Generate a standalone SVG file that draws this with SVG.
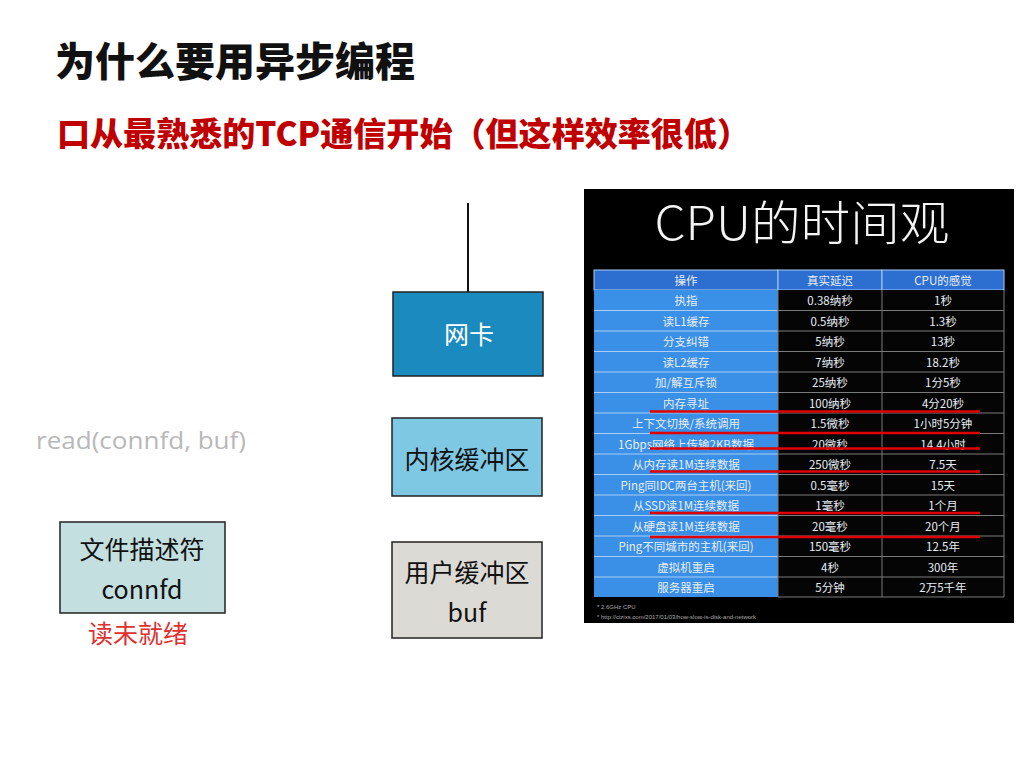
<svg xmlns="http://www.w3.org/2000/svg" width="1024" height="768" viewBox="0 0 1024 768">
<style>
.cjk{font-family:"Noto Sans CJK SC","Liberation Sans",sans-serif}
.box{stroke:#222;stroke-width:1.5}
.lbl{font-family:"Noto Sans CJK SC","Liberation Sans",sans-serif;font-size:25px;text-anchor:middle}
.tc{font-family:"Noto Sans CJK SC","Liberation Sans",sans-serif;font-size:11.5px;fill:#e8eef5;text-anchor:middle}
.hd{fill:#2d6fd0;stroke:#a9cdf2;stroke-width:1}
.red{stroke:#e00000;stroke-width:2.5}
</style>
<rect width="1024" height="768" fill="#ffffff"/>
<text x="55" y="76" class="cjk" font-size="40" font-weight="900" fill="#111" textLength="360" lengthAdjust="spacingAndGlyphs">为什么要用异步编程</text>
<text x="57" y="146" class="cjk" font-size="33" font-weight="900" fill="#c00000" textLength="693" lengthAdjust="spacingAndGlyphs">口从最熟悉的TCP通信开始（但这样效率很低）</text>
<text x="36" y="449" font-family="Open Sans,Liberation Sans,sans-serif" font-size="24" fill="#b8b8b8" textLength="210" lengthAdjust="spacingAndGlyphs">read(connfd, buf)</text>
<g id="connectors">
<line x1="468" y1="203" x2="468" y2="292" stroke="#111" stroke-width="2"/>
</g>
<g id="nic">
<rect x="393" y="292" width="150" height="84" fill="#1b8bbf" class="box"/>
<text x="469" y="344" class="lbl" fill="#fff">网卡</text>
</g>
<g id="kernel-buffer">
<rect x="392" y="418" width="150" height="78" fill="#7ec8e3" class="box"/>
<text x="467" y="469" class="lbl" fill="#111">内核缓冲区</text>
</g>
<g id="user-buffer">
<rect x="392" y="542" width="150" height="96" fill="#dcdad5" class="box"/>
<text x="467" y="582" class="lbl" fill="#111">用户缓冲区</text>
<text x="467" y="622" class="lbl" fill="#111">buf</text>
</g>
<g id="fd">
<rect x="60" y="522" width="165" height="91" fill="#c4dfe0" class="box"/>
<text x="142" y="559" class="lbl" fill="#111">文件描述符</text>
<text x="142" y="599" class="lbl" fill="#111">connfd</text>
</g>
<text x="138" y="643" class="lbl" fill="#e03030">读未就绪</text>
<g id="cpu-time-table">
<rect x="584" y="189" width="430" height="434" fill="#000"/>
<text x="802" y="240" font-family="Noto Sans CJK SC,Liberation Sans,sans-serif" font-size="47" font-weight="300" fill="#f4f4f4" text-anchor="middle" textLength="295" lengthAdjust="spacingAndGlyphs">CPU的时间观</text>
<rect x="594" y="270" width="184" height="20" class="hd"/>
<rect x="778" y="270" width="104" height="20" class="hd"/>
<rect x="882" y="270" width="122" height="20" class="hd"/>
<text x="686" y="284.5" class="tc">操作</text>
<text x="830" y="284.5" class="tc">真实延迟</text>
<text x="943" y="284.5" class="tc">CPU的感觉</text>
<g id="rows">
<rect x="594" y="290" width="184" height="307" fill="#3a8fe6"/>
<rect x="778" y="290" width="226" height="307" fill="#050505"/>
<g stroke="#a9cdf2" stroke-width="1">
<line x1="594" y1="310.5" x2="778" y2="310.5"/><line x1="594" y1="331" x2="778" y2="331"/><line x1="594" y1="351.5" x2="778" y2="351.5"/><line x1="594" y1="372" x2="778" y2="372"/><line x1="594" y1="392.5" x2="778" y2="392.5"/><line x1="594" y1="413" x2="778" y2="413"/><line x1="594" y1="433.5" x2="778" y2="433.5"/><line x1="594" y1="454" x2="778" y2="454"/><line x1="594" y1="474.5" x2="778" y2="474.5"/><line x1="594" y1="495" x2="778" y2="495"/><line x1="594" y1="515.5" x2="778" y2="515.5"/><line x1="594" y1="536" x2="778" y2="536"/><line x1="594" y1="556.5" x2="778" y2="556.5"/><line x1="594" y1="577" x2="778" y2="577"/>
</g>
<g stroke="#7a7a7a" stroke-width="1">
<line x1="778" y1="310.5" x2="1004" y2="310.5"/><line x1="778" y1="331" x2="1004" y2="331"/><line x1="778" y1="351.5" x2="1004" y2="351.5"/><line x1="778" y1="372" x2="1004" y2="372"/><line x1="778" y1="392.5" x2="1004" y2="392.5"/><line x1="778" y1="413" x2="1004" y2="413"/><line x1="778" y1="433.5" x2="1004" y2="433.5"/><line x1="778" y1="454" x2="1004" y2="454"/><line x1="778" y1="474.5" x2="1004" y2="474.5"/><line x1="778" y1="495" x2="1004" y2="495"/><line x1="778" y1="515.5" x2="1004" y2="515.5"/><line x1="778" y1="536" x2="1004" y2="536"/><line x1="778" y1="556.5" x2="1004" y2="556.5"/><line x1="778" y1="577" x2="1004" y2="577"/><line x1="778" y1="597" x2="1004" y2="597"/>
<line x1="882" y1="290" x2="882" y2="597"/><line x1="1004" y1="290" x2="1004" y2="597"/><line x1="778" y1="290" x2="778" y2="597"/>
</g>
<g class="tc">
<text x="686" y="305">执指</text><text x="830" y="305">0.38纳秒</text><text x="943" y="305">1秒</text>
<text x="686" y="325.5">读L1缓存</text><text x="830" y="325.5">0.5纳秒</text><text x="943" y="325.5">1.3秒</text>
<text x="686" y="346">分支纠错</text><text x="830" y="346">5纳秒</text><text x="943" y="346">13秒</text>
<text x="686" y="366.5">读L2缓存</text><text x="830" y="366.5">7纳秒</text><text x="943" y="366.5">18.2秒</text>
<text x="686" y="387">加/解互斥锁</text><text x="830" y="387">25纳秒</text><text x="943" y="387">1分5秒</text>
<text x="686" y="407.5">内存寻址</text><text x="830" y="407.5">100纳秒</text><text x="943" y="407.5">4分20秒</text>
<text x="686" y="428">上下文切换/系统调用</text><text x="830" y="428">1.5微秒</text><text x="943" y="428">1小时5分钟</text>
<text x="686" y="448.5">1Gbps网络上传输2KB数据</text><text x="830" y="448.5">20微秒</text><text x="943" y="448.5">14.4小时</text>
<text x="686" y="469">从内存读1M连续数据</text><text x="830" y="469">250微秒</text><text x="943" y="469">7.5天</text>
<text x="686" y="489.5">Ping同IDC两台主机(来回)</text><text x="830" y="489.5">0.5毫秒</text><text x="943" y="489.5">15天</text>
<text x="686" y="510">从SSD读1M连续数据</text><text x="830" y="510">1毫秒</text><text x="943" y="510">1个月</text>
<text x="686" y="530.5">从硬盘读1M连续数据</text><text x="830" y="530.5">20毫秒</text><text x="943" y="530.5">20个月</text>
<text x="686" y="551">Ping不同城市的主机(来回)</text><text x="830" y="551">150毫秒</text><text x="943" y="551">12.5年</text>
<text x="686" y="571.5">虚拟机重启</text><text x="830" y="571.5">4秒</text><text x="943" y="571.5">300年</text>
<text x="686" y="592">服务器重启</text><text x="830" y="592">5分钟</text><text x="943" y="592">2万5千年</text>
</g>
</g>
<g class="red">
<line x1="650" y1="411.5" x2="980" y2="411.5"/>
<line x1="650" y1="433" x2="980" y2="433"/>
<line x1="650" y1="448.5" x2="980" y2="448.5"/>
<line x1="650" y1="471.5" x2="980" y2="471.5"/>
<line x1="650" y1="513" x2="980" y2="513"/>
<line x1="650" y1="537" x2="980" y2="537"/>
</g>
<text x="597" y="609" font-family="Liberation Sans,sans-serif" font-size="6" fill="#aaa">* 2.6GHz CPU</text>
<text x="597" y="619" font-family="Liberation Sans,sans-serif" font-size="6" fill="#aaa">* http://cizixs.com/2017/01/03/how-slow-is-disk-and-network</text>
</g>
</svg>
